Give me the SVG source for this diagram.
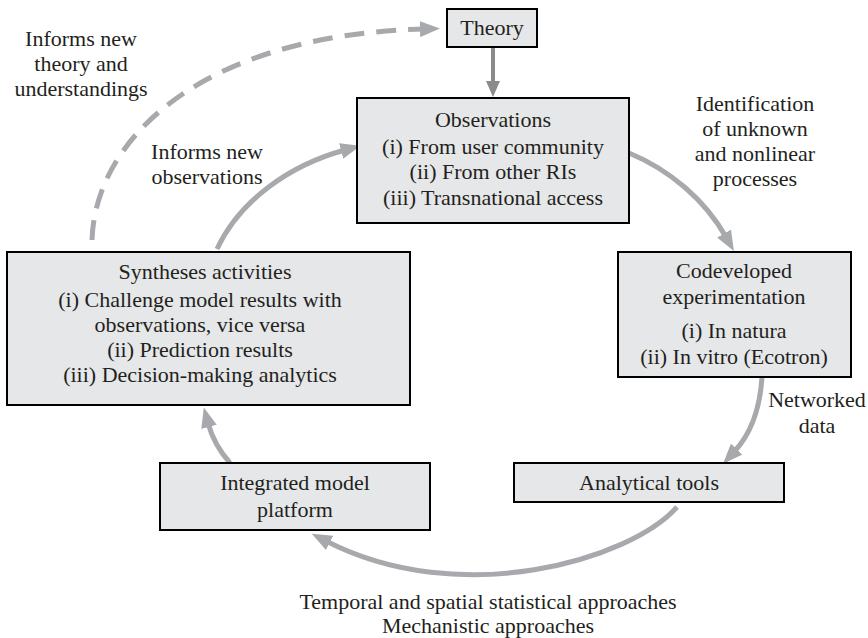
<svg xmlns="http://www.w3.org/2000/svg" width="868" height="638" viewBox="0 0 868 638">
<style>
  .box { fill: #e6e7e8; stroke: #000000; stroke-width: 2; }
  text { font-family: "Liberation Serif", "Times New Roman", serif; font-size: 22px; fill: #231f20; text-anchor: middle; }
  .arr { fill: none; stroke: #a7a9ac; stroke-width: 5; }
  .dash { fill: none; stroke: #a7a9ac; stroke-width: 5; stroke-dasharray: 20 12; }
  .dark { fill: none; stroke: #8b8b8e; stroke-width: 4; }
</style>
<defs>
  <marker id="ah" viewBox="0 0 20 16" markerWidth="20" markerHeight="16" refX="4" refY="8" orient="auto" markerUnits="userSpaceOnUse">
    <path d="M0,0 L20,8 L0,16 z" fill="#a7a9ac"/>
  </marker>
  <marker id="ahd" viewBox="0 0 16 14" markerWidth="16" markerHeight="14" refX="3" refY="7" orient="auto" markerUnits="userSpaceOnUse">
    <path d="M0,0 L16,7 L0,14 z" fill="#8b8b8e"/>
  </marker>
</defs>

<g id="connectors">
  <path class="dark" d="M493,47 L493,84" marker-end="url(#ahd)"/>
  <path class="arr" d="M629,153 C670,170 705,200 726,237" marker-end="url(#ah)"/>
  <path class="arr" d="M762,377 C760,410 750,435 734,452" marker-end="url(#ah)"/>
  <path class="arr" d="M677,507 C630,560 460,610 326,541" marker-end="url(#ah)"/>
  <path class="arr" d="M230,463 Q214,445 208,423" marker-end="url(#ah)"/>
  <path class="arr" d="M217,249 C240,200 290,165 345,150" marker-end="url(#ah)"/>
  <path class="dash" d="M92,240 C95,140 200,35 424,29" marker-end="url(#ah)"/>
</g>

<g id="theory">
  <rect class="box" x="447" y="9" width="90" height="38"/>
  <text x="492" y="35">Theory</text>
</g>

<g id="observations">
  <rect class="box" x="357" y="98" width="272" height="125"/>
  <text x="493" y="127">Observations</text>
  <text x="493" y="154">(i) From user community</text>
  <text x="493" y="179">(ii) From other RIs</text>
  <text x="493" y="205">(iii) Transnational access</text>
</g>

<g id="codeveloped">
  <rect class="box" x="618" y="252" width="233" height="125"/>
  <text x="734" y="278">Codeveloped</text>
  <text x="734" y="304">experimentation</text>
  <text x="734" y="338">(i) In natura</text>
  <text x="734" y="364">(ii) In vitro (Ecotron)</text>
</g>

<g id="syntheses">
  <rect class="box" x="7" y="252" width="403" height="153"/>
  <text x="205" y="279">Syntheses activities</text>
  <text x="200" y="307">(i) Challenge model results with</text>
  <text x="200" y="332">observations, vice versa</text>
  <text x="200" y="357">(ii) Prediction results</text>
  <text x="200" y="382">(iii) Decision-making analytics</text>
</g>

<g id="integrated">
  <rect class="box" x="160" y="463" width="270" height="67"/>
  <text x="295" y="490">Integrated model</text>
  <text x="295" y="517">platform</text>
</g>

<g id="analytical">
  <rect class="box" x="514" y="463" width="270" height="39"/>
  <text x="649" y="490">Analytical tools</text>
</g>

<g id="labels">
  <text x="81" y="46">Informs new</text>
  <text x="81" y="71">theory and</text>
  <text x="81" y="96">understandings</text>
  <text x="207" y="159">Informs new</text>
  <text x="207" y="184">observations</text>
  <text x="755" y="111">Identification</text>
  <text x="755" y="136">of unknown</text>
  <text x="755" y="161">and nonlinear</text>
  <text x="755" y="186">processes</text>
  <text x="817" y="407">Networked</text>
  <text x="817" y="433">data</text>
  <text x="488" y="609">Temporal and spatial statistical approaches</text>
  <text x="488" y="633">Mechanistic approaches</text>
</g>
</svg>
